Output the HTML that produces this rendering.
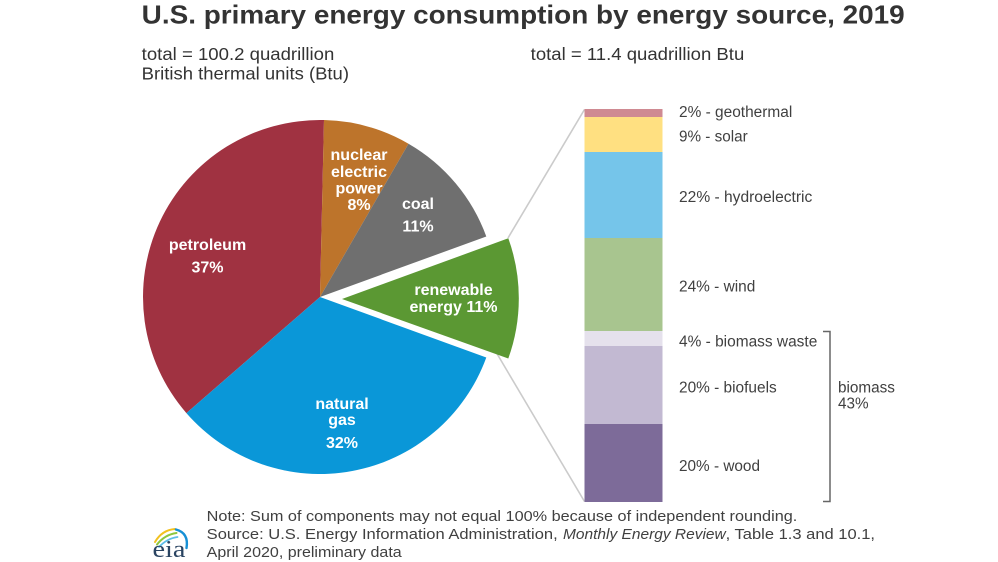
<!DOCTYPE html>
<html>
<head>
<meta charset="utf-8">
<style>
  html, body { margin: 0; padding: 0; background: #ffffff; }
  body { width: 998px; height: 562px; overflow: hidden; }
  svg { display: block; }
  text { font-family: "Liberation Sans", Arial, sans-serif; }
  text.serif { font-family: "Liberation Serif", "DejaVu Serif", serif; }
</style>
</head>
<body>
<svg width="998" height="562" viewBox="0 0 998 562" xmlns="http://www.w3.org/2000/svg">
  <rect x="0" y="0" width="998" height="562" fill="#ffffff"/>

  <!-- Title -->
  <text x="141.7" y="23.5" font-size="26" font-weight="bold" fill="#333333" textLength="763" lengthAdjust="spacingAndGlyphs">U.S. primary energy consumption by energy source, 2019</text>

  <!-- Subtitles -->
  <text x="141.7" y="60" font-size="17.5" fill="#333333" textLength="192.6" lengthAdjust="spacingAndGlyphs">total = 100.2 quadrillion</text>
  <text x="141.7" y="79.5" font-size="17.5" fill="#333333" textLength="207.3" lengthAdjust="spacingAndGlyphs">British thermal units (Btu)</text>
  <text x="530.7" y="60" font-size="17.5" fill="#333333" textLength="213.6" lengthAdjust="spacingAndGlyphs">total = 11.4 quadrillion Btu</text>

  <!-- Connector lines (behind wedge) -->
  <line x1="508" y1="238" x2="584.5" y2="109.5" stroke="#cbcbcb" stroke-width="1.6"/>
  <line x1="496" y1="352" x2="584.5" y2="501.5" stroke="#cbcbcb" stroke-width="1.6"/>

  <!-- Pie -->
  <path d="M320,297 L186.4,413.1 A177,177 0 0 1 324,120.05 Z" fill="#a03241"/>
  <path d="M320,297 L324,120.05 A177,177 0 0 1 408.5,143.7 Z" fill="#bd742b"/>
  <path d="M320,297 L408.5,143.7 A177,177 0 0 1 486.3,236.5 Z" fill="#6f6f6f"/>
  <path d="M320,297 L486.3,357.5 A177,177 0 0 1 186.4,413.1 Z" fill="#0a97d8"/>
  <path d="M342,299 L508.3,238.3 A177,177 0 0 1 508.3,358.5 Z" fill="#5b9833"/>

  <!-- Pie labels -->
  <g font-size="16" font-weight="bold" fill="#ffffff" text-anchor="middle">
    <text x="207.5" y="250">petroleum</text>
    <text x="207.5" y="272.5">37%</text>

    <text x="359" y="160">nuclear</text>
    <text x="359" y="177">electric</text>
    <text x="359" y="193.5">power</text>
    <text x="359" y="210">8%</text>

    <text x="418" y="209">coal</text>
    <text x="418" y="231.5">11%</text>

    <text x="453.5" y="295">renewable</text>
    <text x="453.5" y="312">energy 11%</text>

    <text x="342" y="409">natural</text>
    <text x="342" y="425">gas</text>
    <text x="342" y="448">32%</text>
  </g>

  <!-- Stacked bar -->
  <rect x="584.5" y="109" width="78" height="8" fill="#cf8a92"/>
  <rect x="584.5" y="117" width="78" height="35" fill="#ffe081"/>
  <rect x="584.5" y="152" width="78" height="86" fill="#75c5ea"/>
  <rect x="584.5" y="238" width="78" height="93" fill="#a8c58f"/>
  <rect x="584.5" y="331" width="78" height="15" fill="#e5e1ec"/>
  <rect x="584.5" y="346" width="78" height="78" fill="#c2b9d2"/>
  <rect x="584.5" y="424" width="78" height="78" fill="#7d6b99"/>

  <!-- Bar labels -->
  <g font-size="15.3" fill="#404040">
    <text x="679" y="117" textLength="113.3" lengthAdjust="spacingAndGlyphs">2% - geothermal</text>
    <text x="679" y="141.5" textLength="68.7" lengthAdjust="spacingAndGlyphs">9% - solar</text>
    <text x="679" y="202" textLength="133.3" lengthAdjust="spacingAndGlyphs">22% - hydroelectric</text>
    <text x="679" y="291.5" textLength="76.3" lengthAdjust="spacingAndGlyphs">24% - wind</text>
    <text x="679" y="346.5" textLength="138.3" lengthAdjust="spacingAndGlyphs">4% - biomass waste</text>
    <text x="679" y="392.5" textLength="97.7" lengthAdjust="spacingAndGlyphs">20% - biofuels</text>
    <text x="679" y="471" textLength="81" lengthAdjust="spacingAndGlyphs">20% - wood</text>
    <text x="838" y="392.5">biomass</text>
    <text x="838" y="408.5">43%</text>
  </g>

  <!-- Bracket -->
  <path d="M823,331.5 H830 V501.5 H823" fill="none" stroke="#666666" stroke-width="1.5"/>

  <!-- Footer -->
  <g font-size="14.5" fill="#404040">
    <text x="206.7" y="521" textLength="590.6" lengthAdjust="spacingAndGlyphs">Note: Sum of components may not equal 100% because of independent rounding.</text>
    <text x="206.7" y="539" textLength="351" lengthAdjust="spacingAndGlyphs">Source: U.S. Energy Information Administration,</text>
    <text x="563" y="539" font-style="italic" textLength="162.7" lengthAdjust="spacingAndGlyphs">Monthly Energy Review</text>
    <text x="725.7" y="539" textLength="149.3" lengthAdjust="spacingAndGlyphs">, Table 1.3 and 10.1,</text>
    <text x="206.7" y="557" textLength="195" lengthAdjust="spacingAndGlyphs">April 2020, preliminary data</text>
  </g>

  <!-- eia logo -->
  <g fill="none" stroke-linecap="round">
    <path d="M155,542 Q162,530 175,529" stroke="#f2c11f" stroke-width="2"/>
    <path d="M157,544.5 Q165,534.5 176.5,533" stroke="#8dc63f" stroke-width="2"/>
    <path d="M159,547 Q167,538.5 177.5,537" stroke="#5cbde8" stroke-width="1.8"/>
    <path d="M176,529.5 Q189,533 186.5,548" stroke="#1690d6" stroke-width="2.4"/>
  </g>
  <text class="serif" x="152.5" y="557" font-size="24" fill="#2a4462" textLength="33" lengthAdjust="spacingAndGlyphs">eia</text>
</svg>
</body>
</html>
